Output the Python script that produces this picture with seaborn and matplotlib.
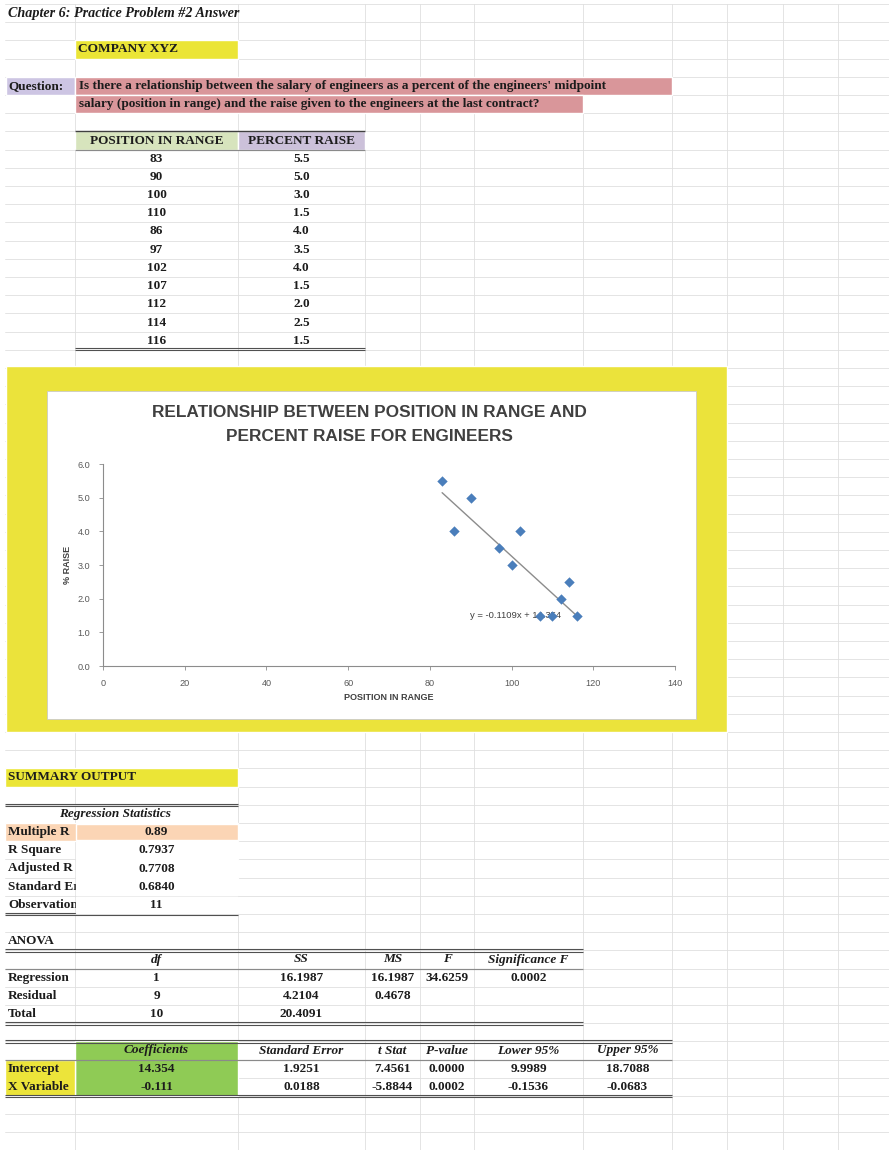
import matplotlib
matplotlib.use("Agg")
import matplotlib.pyplot as plt
import numpy as np
import seaborn as sns
from matplotlib.patches import Rectangle

position_in_range = [83, 90, 100, 110, 86, 97, 102, 107, 112, 114, 116]
percent_raise = [5.5, 5.0, 3.0, 1.5, 4.0, 3.5, 4.0, 1.5, 2.0, 2.5, 1.5]

reg_stat_labels = ["Multiple R", "R Square", "Adjusted R Square", "Standard Error", "Observations"]
reg_stat_values = ["0.89", "0.7937", "0.7708", "0.6840", "11"]

anova_cols = ["df", "SS", "MS", "F", "Significance F"]
anova_rows = ["Regression", "Residual", "Total"]
anova_df = ["1", "9", "10"]
anova_ss = ["16.1987", "4.2104", "20.4091"]
anova_ms = ["16.1987", "0.4678", ""]
anova_f = ["34.6259", "", ""]
anova_sig = ["0.0002", "", ""]

coef_cols = ["Coefficients", "Standard Error", "t Stat", "P-value", "Lower 95%", "Upper 95%"]
coef_rows = ["Intercept", "X Variable"]
coef_value = ["14.354", "-0.111"]
coef_se = ["1.9251", "0.0188"]
coef_t = ["7.4561", "-5.8844"]
coef_p = ["0.0000", "0.0002"]
coef_low = ["9.9989", "-0.1536"]
coef_up = ["18.7088", "-0.0683"]

trend_label = "y = -0.1109x + 14.354"

# ---- sheet geometry (pixels) ----
W, H = 889, 1150
COL_LINES = [75, 238, 365, 420, 474, 583, 672, 727, 783, 838]
COL_MID = {"B": 156.5, "C": 301.5, "D": 392.5, "E": 447, "F": 528.5, "G": 627.5}
ROW0, ROW_H = 4.0, 18.2
TXT = "#1c1c1c"
BODY = 9.5


def row_top(k):
    return ROW0 + ROW_H * k


def row_mid(k):
    return ROW0 + ROW_H * (k + 0.5)


sns.set_theme(style="white")
plt.rcParams["font.family"] = ["Liberation Serif", "DejaVu Serif"]

fig = plt.figure(figsize=(W / 100, H / 100), dpi=100)
sheet = fig.add_axes([0, 0, 1, 1])
sheet.set_xlim(0, W)
sheet.set_ylim(H, 0)
sheet.axis("off")

PX = 0.72  # points per pixel


def fill(x0, x1, y0, y1, color, z=1, **kw):
    sheet.add_patch(Rectangle((x0, y0), x1 - x0, y1 - y0, facecolor=color,
                              zorder=z, **kw))


def hline(y, x0, x1, color="#444444", lw=1.0, z=3):
    sheet.plot([x0, x1], [y, y], color=color, lw=lw * PX, zorder=z,
               solid_capstyle="butt")


def double(y, x0, x1):
    hline(y - 1.3, x0, x1, "#505050", 1.1)
    hline(y + 1.3, x0, x1, "#505050", 1.1)


def cell(x, y, s, ha="center", size=BODY, style="normal", z=5, **kw):
    return sheet.text(x, y, s, ha=ha, va="center", fontsize=size,
                      fontweight="bold", fontstyle=style, color=TXT,
                      zorder=z, **kw)


# gridlines
for x in COL_LINES:
    sheet.plot([x, x], [ROW0, H], color="#dedede", lw=0.8 * PX, zorder=0)
for k in range(0, 64):
    sheet.plot([5, W], [row_top(k), row_top(k)], color="#dedede",
               lw=0.8 * PX, zorder=0)

# title block
cell(8, row_mid(0), "Chapter 6: Practice Problem #2 Answer", ha="left",
     size=10.2, style="italic")
fill(75, 238, row_top(2), row_top(3), "#ebe536")
cell(78, row_mid(2), "COMPANY XYZ", ha="left", size=9.6)

fill(6, 75, row_top(4), row_top(5), "#cdc5e3")
fill(75, 672, row_top(4), row_top(5), "#d9969a")
fill(75, 583, row_top(5), row_top(6), "#d9969a")
cell(8, row_mid(4), "Question:", ha="left")
cell(79, row_mid(4), "Is there a relationship between the salary of engineers "
     "as a percent of the engineers' midpoint", ha="left")
cell(79, row_mid(5), "salary (position in range) and the raise given to the "
     "engineers at the last contract?", ha="left")

# data table
fill(75, 238, row_top(7), row_top(8), "#d7e4bd")
fill(238, 365, row_top(7), row_top(8), "#ccc1da")
hline(row_top(7), 75, 365, "#404040", 1.4)
hline(row_top(8), 75, 365, "#8a8a8a", 1.2)
cell(COL_MID["B"], row_mid(7), "POSITION IN RANGE")
cell(COL_MID["C"], row_mid(7), "PERCENT RAISE")
for i, (p, r) in enumerate(zip(position_in_range, percent_raise)):
    cell(COL_MID["B"], row_mid(8 + i), f"{p}")
    cell(COL_MID["C"], row_mid(8 + i), f"{r:.1f}")
double(row_top(8 + len(position_in_range)) - 1, 75, 365)

# chart frame
fill(6, 727, 366, 732, "#ebe33b", z=2)
fill(47, 696, 391, 719, "white", z=2, edgecolor="#c8c8c8", lw=0.8 * PX)
sheet.text(369.5, 424.5, "RELATIONSHIP BETWEEN POSITION IN RANGE AND\n"
           "PERCENT RAISE FOR ENGINEERS", ha="center", va="center",
           fontsize=12.4, fontweight="bold", color="#404040",
           family="Liberation Sans", linespacing=1.7, zorder=4)

# scatter chart
ax = fig.add_axes([103 / W, 1 - 666 / H, 572 / W, 202 / H])
ax.set_facecolor("white")
sns.regplot(x=position_in_range, y=percent_raise, scatter=False, ci=None,
            ax=ax, line_kws=dict(color="#8c8c8c", lw=1.0, zorder=2))
sns.scatterplot(x=position_in_range, y=percent_raise, marker="D", s=28,
                color="#4a7ebb", linewidth=0, ax=ax, zorder=3)
ax.text(101, 1.5, trend_label, ha="center", va="center", fontsize=6.8,
        color="#404040", family="Liberation Sans", zorder=2)
ax.set_xlim(0, 140)
ax.set_ylim(0, 6)
ax.set_xticks(np.arange(0, 141, 20))
ax.set_yticks(np.arange(0, 6.1, 1))
ax.set_yticklabels([f"{v:.1f}" for v in np.arange(0, 6.1, 1)])
for side in ["top", "right"]:
    ax.spines[side].set_visible(False)
for side in ["left", "bottom"]:
    ax.spines[side].set_color("#8c8c8c")
    ax.spines[side].set_linewidth(0.8)
ax.tick_params(axis="both", which="major", direction="out", length=3,
               width=0.6, color="#8c8c8c", labelsize=6.6, labelcolor="#595959")
ax.tick_params(axis="x", pad=6, bottom=True)
ax.tick_params(axis="y", pad=6, left=True)
for lab in ax.get_xticklabels() + ax.get_yticklabels():
    lab.set_family("Liberation Sans")
ax.set_xlabel("POSITION IN RANGE", fontsize=6.5, fontweight="bold",
              color="#404040", family="Liberation Sans")
ax.set_ylabel("% RAISE", fontsize=6.5, fontweight="bold", color="#404040",
              family="Liberation Sans")
ax.xaxis.set_label_coords(0.5, -(698 - 666) / 202)
ax.xaxis.label.set_va("center")
ax.yaxis.set_label_coords(-(103 - 68) / 572, 0.5)
ax.yaxis.label.set_va("center")
ax.grid(False)

# summary output
fill(5, 238, row_top(42), row_top(43), "#ebe536")
cell(8, row_mid(42), "SUMMARY OUTPUT", ha="left")
double(row_top(44), 5, 238)
cell(115, row_mid(44), "Regression Statistics", style="italic")
fill(5, 238, row_top(45), row_top(46), "#fbd5b5")
for i, (lab, val) in enumerate(zip(reg_stat_labels, reg_stat_values)):
    cell(8, row_mid(45 + i), lab, ha="left")
    # the value cell hides whatever part of the label runs past column A
    fill(75.6, 237.6, row_top(45 + i) + 0.7, row_top(46 + i) - 0.7,
         "#fbd5b5" if i == 0 else "white", z=5.5)
    cell(COL_MID["B"], row_mid(45 + i), val, z=6)
double(row_top(50), 5, 238)

# anova
cell(8, row_mid(51), "ANOVA", ha="left")
double(row_top(52), 5, 583)
for col, name in zip("BCDEF", anova_cols):
    cell(COL_MID[col], row_mid(52), name, style="italic")
hline(row_top(53), 5, 583, "#8a8a8a", 1.2)
for i, lab in enumerate(anova_rows):
    y = row_mid(53 + i)
    cell(8, y, lab, ha="left")
    for col, vals in zip("BCDEF", [anova_df, anova_ss, anova_ms, anova_f, anova_sig]):
        cell(COL_MID[col], y, vals[i])
double(row_top(56), 5, 583)

# coefficients
fill(75, 238, row_top(57), row_top(60), "#8fcb55")
fill(5, 75, row_top(58), row_top(60), "#ece43a")
double(row_top(57), 5, 672)
for col, name in zip("BCDEFG", coef_cols):
    cell(COL_MID[col], row_mid(57), name, style="italic")
hline(row_top(58), 5, 672, "#8a8a8a", 1.2)
for i, lab in enumerate(coef_rows):
    y = row_mid(58 + i)
    cell(8, y, lab, ha="left")
    for col, vals in zip("BCDEFG", [coef_value, coef_se, coef_t, coef_p, coef_low, coef_up]):
        cell(COL_MID[col], y, vals[i])
double(row_top(60), 5, 672)

fig.savefig("out.png", dpi=100)
